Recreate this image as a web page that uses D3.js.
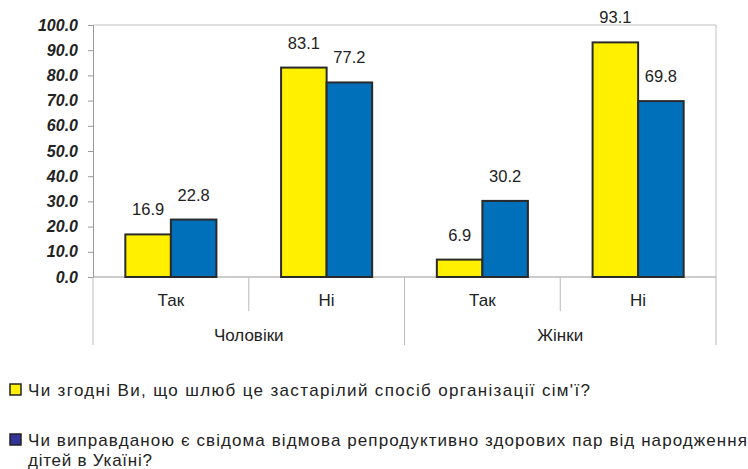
<!DOCTYPE html>
<html>
<head>
<meta charset="utf-8">
<script src="https://cdn.jsdelivr.net/npm/d3@7"></script>
<style>
  html, body { margin: 0; padding: 0; background: #fff; }
  svg { display: block; font-family: "Liberation Sans", Arial, sans-serif; }
</style>
</head>
<body>
<svg id="chart" width="748" height="469"></svg>
<script>
const groups = ["Чоловіки", "Жінки"];
const answers = ["Так", "Ні"];
const seriesNames = [
  "Чи згодні Ви, що шлюб це застарілий спосіб організації сім'ї?",
  "Чи виправданою є свідома відмова репродуктивно  здорових пар від народження дітей в Укаїні?"
];
const seriesA = [16.9, 83.1, 6.9, 93.1];
const seriesB = [22.8, 77.2, 30.2, 69.8];
const yTicks = [0, 10, 20, 30, 40, 50, 60, 70, 80, 90, 100];

const barColors = ["#FFF000", "#0070BA"];
const legendColors = ["#FFF000", "#333399"];

const svg = d3.select("#chart");
const plotL = 93, plotR = 716, plotT = 25, plotB = 277;

const cats = [];
groups.forEach(g => answers.forEach(a => cats.push(g + "|" + a)));

const x = d3.scaleBand().domain(cats).range([plotL, plotR]).paddingInner(0).paddingOuter(0);
const xInner = d3.scaleBand().domain([0, 1]).range([0, x.bandwidth()]).paddingInner(0).paddingOuter(0.71);
const y = d3.scaleLinear().domain([0, 100]).range([plotB, plotT]);

// plot border top and right
svg.append("line").attr("x1", plotL).attr("x2", plotR).attr("y1", plotT).attr("y2", plotT)
  .attr("stroke", "#c0c0c0").attr("stroke-width", 1);
svg.append("line").attr("x1", plotR).attr("x2", plotR).attr("y1", plotT).attr("y2", plotB)
  .attr("stroke", "#c0c0c0").attr("stroke-width", 1);

// y axis
const yAxis = d3.axisLeft(y).tickValues(yTicks).tickSize(5).tickFormat(d3.format(".1f"));
const yg = svg.append("g").attr("transform", `translate(${plotL},0)`).call(yAxis);
yg.select(".domain").attr("stroke", "#999");
yg.selectAll(".tick line").attr("stroke", "#999");
yg.selectAll(".tick text")
  .attr("x", -15)
  .attr("font-family", "'Liberation Sans', Arial, sans-serif")
  .attr("font-size", 16).attr("font-weight", "bold").attr("font-style", "italic")
  .attr("fill", "#222");

// baseline
svg.append("line").attr("x1", plotL).attr("x2", plotR).attr("y1", y(0)).attr("y2", y(0))
  .attr("stroke", "#999");

// category separators
cats.forEach((c, i) => {
  const xl = x(c);
  const isGroupEdge = i % answers.length === 0;
  svg.append("line").attr("x1", xl).attr("x2", xl).attr("y1", y(0))
    .attr("y2", isGroupEdge ? 345 : 311).attr("stroke", "#bbb");
});
svg.append("line").attr("x1", plotR).attr("x2", plotR).attr("y1", y(0)).attr("y2", 345).attr("stroke", "#bbb");

// bars
const series = [seriesA, seriesB];
series.forEach((vals, si) => {
  svg.append("g").selectAll("rect").data(vals).join("rect")
    .attr("x", (d, i) => x(cats[i]) + xInner(si))
    .attr("y", d => y(d))
    .attr("width", xInner.bandwidth())
    .attr("height", d => y(0) - y(d))
    .attr("fill", barColors[si])
    .attr("stroke", "#2a2a2a").attr("stroke-width", 2);
  svg.append("g").selectAll("text").data(vals).join("text")
    .attr("x", (d, i) => x(cats[i]) + xInner(si) + xInner.bandwidth() / 2)
    .attr("y", d => y(d) - 19)
    .attr("text-anchor", "middle")
    .attr("font-size", 16.5).attr("fill", "#222")
    .text(d => d.toFixed(1));
});

// category labels
cats.forEach(c => {
  svg.append("text").attr("x", x(c) + x.bandwidth() / 2).attr("y", 306)
    .attr("text-anchor", "middle").attr("font-size", 17).attr("fill", "#222")
    .text(c.split("|")[1]);
});
groups.forEach(g => {
  const x0 = x(g + "|" + answers[0]);
  const x1 = x(g + "|" + answers[answers.length - 1]) + x.bandwidth();
  svg.append("text").attr("x", (x0 + x1) / 2).attr("y", 341)
    .attr("text-anchor", "middle").attr("font-size", 17).attr("fill", "#222")
    .text(g);
});

// legend
const leg = svg.append("g");
leg.append("rect").attr("x", 10).attr("y", 384).attr("width", 11).attr("height", 11)
  .attr("fill", legendColors[0]).attr("stroke", "#222").attr("stroke-width", 1.5);
leg.append("text").attr("x", 28).attr("y", 396).attr("font-size", 17).attr("fill", "#222")
  .attr("textLength", 562).attr("lengthAdjust", "spacing")
  .text(seriesNames[0]);

leg.append("rect").attr("x", 10).attr("y", 434).attr("width", 11).attr("height", 11)
  .attr("fill", legendColors[1]).attr("stroke", "#222").attr("stroke-width", 1.5);
const split = seriesNames[1].lastIndexOf(" дітей");
leg.append("text").attr("x", 28).attr("y", 446).attr("font-size", 17).attr("fill", "#222")
  .attr("textLength", 719).attr("lengthAdjust", "spacing")
  .text(seriesNames[1].slice(0, split));
leg.append("text").attr("x", 28).attr("y", 466).attr("font-size", 17).attr("fill", "#222")
  .attr("textLength", 124).attr("lengthAdjust", "spacing")
  .text(seriesNames[1].slice(split + 1));
</script>
</body>
</html>
